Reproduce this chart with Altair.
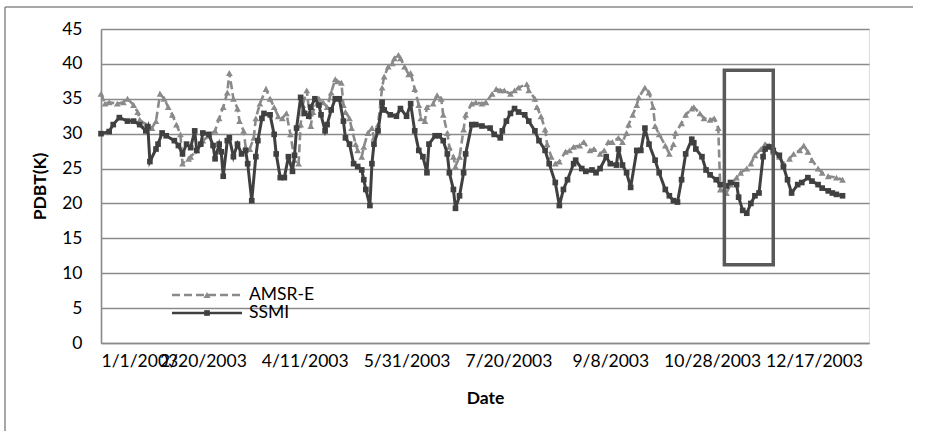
import altair as alt
import pandas as pd

# Daily PDBT readings (day offset from 1 Jan 2003, kelvin)
ssmi_days = [0, 4, 6, 9, 13, 16, 19, 22, 23, 24, 27, 28, 30, 32, 36, 38, 40, 42, 44, 46,
             47, 49, 50, 53, 55, 56, 58, 59, 60, 62, 63, 65, 67, 69, 71, 72, 74, 76, 77, 79,
             80, 83, 85, 86, 88, 90, 92, 94, 95, 96, 98, 100, 102, 103, 105, 107, 108, 110, 111, 113,
             115, 117, 119, 120, 122, 124, 126, 128, 129, 130, 132, 133, 134, 136, 138, 139, 142, 145, 147, 150,
             152, 154, 156, 158, 160, 161, 164, 166, 168, 170, 171, 173, 174, 176, 178, 179, 182, 184, 187, 191,
             193, 196, 197, 199, 201, 203, 205, 208, 210, 213, 215, 218, 220, 223, 225, 227, 229, 232, 233, 236,
             238, 241, 243, 245, 248, 250, 253, 254, 256, 258, 260, 263, 265, 267, 269, 272, 274, 277, 279, 281,
             283, 285, 287, 290, 291, 292, 295, 297, 299, 302, 304, 307, 309, 312, 313, 315, 317, 319, 321, 323,
             325, 326, 328, 330, 333, 335, 337, 339, 342, 344, 347, 349, 352, 354, 357, 359, 361, 364]
ssmi_vals = [30.0, 30.3, 31.3, 32.3, 31.8, 31.8, 31.3, 30.4, 31.0, 26.0, 27.8, 28.5, 30.1, 29.7, 29.0, 28.3, 27.1, 28.5, 28.0, 30.4,
             27.6, 28.5, 30.1, 29.9, 28.3, 26.4, 28.5, 27.4, 23.9, 29.0, 29.4, 26.7, 28.5, 27.1, 27.6, 25.7, 20.4, 26.7, 29.0, 32.2,
             32.9, 32.7, 29.9, 27.1, 23.7, 23.7, 26.7, 24.6, 26.9, 30.8, 35.2, 32.9, 32.5, 33.8, 35.0, 34.1, 32.7, 30.4, 31.3, 33.4,
             35.0, 35.0, 31.8, 29.4, 28.5, 25.7, 25.3, 24.8, 23.4, 22.0, 19.7, 25.7, 28.5, 30.4, 34.5, 33.4, 32.7, 32.5, 33.6, 32.5,
             34.3, 30.4, 27.6, 26.7, 24.4, 28.5, 29.7, 29.7, 29.0, 27.1, 24.4, 22.0, 19.3, 21.1, 24.4, 27.1, 31.3, 31.3, 31.1, 30.8,
             29.9, 29.4, 30.4, 31.8, 32.9, 33.6, 33.1, 32.7, 31.8, 30.4, 29.0, 27.6, 25.7, 23.0, 19.7, 22.0, 23.4, 25.7, 26.2, 25.0,
             24.6, 24.8, 24.4, 25.0, 26.7, 25.7, 25.5, 27.8, 25.5, 24.4, 22.3, 27.6, 27.6, 30.8, 28.5, 26.2, 24.4, 22.0, 21.1, 20.4,
             20.2, 23.4, 27.1, 29.2, 28.7, 27.8, 26.7, 24.8, 24.1, 23.4, 22.7, 22.5, 23.0, 22.7, 20.9, 19.0, 18.6, 20.0, 21.1, 21.5,
             26.7, 27.8, 28.1, 27.6, 26.9, 25.3, 23.4, 21.5, 22.7, 23.0, 23.7, 23.2, 22.7, 22.2, 21.8, 21.5, 21.3, 21.1]

amsr_days = [0, 2, 4, 8, 11, 13, 16, 18, 19, 22, 25, 27, 29, 31, 33, 35, 37, 39, 40, 43,
             44, 47, 50, 53, 56, 58, 60, 62, 63, 65, 67, 68, 70, 71, 73, 75, 76, 78, 81, 83,
             85, 87, 89, 91, 93, 95, 97, 98, 99, 101, 103, 104, 106, 107, 109, 111, 113, 115, 116, 118,
             119, 120, 122, 123, 125, 126, 128, 129, 131, 133, 134, 136, 138, 139, 141, 143, 144, 146, 147, 149,
             151, 152, 154, 156, 157, 159, 160, 163, 165, 167, 168, 170, 171, 173, 174, 176, 178, 179, 182, 184,
             187, 189, 192, 194, 196, 198, 201, 203, 205, 209, 210, 213, 214, 216, 218, 219, 221, 223, 225, 228,
             230, 232, 235, 237, 240, 242, 245, 247, 249, 251, 254, 256, 258, 259, 261, 263, 264, 267, 269, 271,
             272, 274, 277, 279, 281, 282, 285, 287, 290, 291, 294, 296, 299, 301, 303, 304, 307, 309, 312, 314,
             317, 319, 321, 324, 326, 328, 330, 333, 335, 338, 340, 343, 345, 347, 349, 352, 354, 357, 361, 364]
amsr_vals = [35.7, 34.3, 34.5, 34.3, 34.5, 35.0, 34.1, 33.1, 32.0, 31.3, 30.8, 31.8, 35.7, 35.0, 33.8, 32.7, 31.3, 29.9, 25.7, 26.4,
             26.7, 27.6, 29.0, 29.7, 30.4, 32.2, 33.8, 35.9, 38.7, 35.0, 33.6, 31.8, 30.4, 28.1, 27.8, 29.4, 32.2, 34.3, 36.4, 35.0,
             33.8, 32.5, 32.2, 32.9, 29.9, 26.2, 25.7, 31.3, 34.1, 36.2, 31.1, 33.1, 34.3, 35.0, 34.5, 33.8, 35.9, 37.8, 37.5, 37.3,
             34.1, 33.1, 32.2, 30.8, 28.5, 27.6, 26.7, 28.1, 30.1, 30.8, 29.4, 31.3, 36.6, 38.2, 39.6, 40.1, 40.8, 41.3, 40.8, 39.6,
             38.5, 38.7, 36.4, 34.1, 32.2, 31.8, 33.8, 34.3, 35.5, 35.0, 32.7, 30.1, 28.1, 26.7, 25.3, 26.7, 30.6, 32.7, 34.3, 34.5,
             34.3, 34.5, 35.7, 36.4, 36.2, 36.2, 35.7, 36.2, 36.6, 37.1, 36.2, 35.0, 33.8, 32.5, 30.6, 28.5, 26.7, 25.7, 26.0, 27.4,
             27.6, 28.1, 28.3, 28.8, 27.6, 27.8, 27.1, 27.6, 28.8, 28.8, 29.4, 28.8, 30.1, 31.3, 32.7, 34.1, 35.2, 36.6, 35.9, 33.8,
             31.1, 29.9, 28.3, 27.1, 28.5, 30.1, 31.5, 32.7, 33.6, 33.8, 32.9, 32.2, 32.0, 32.2, 30.8, 22.0, 21.5, 22.7, 23.7, 24.4,
             25.0, 25.7, 26.9, 27.8, 28.5, 28.3, 27.4, 26.7, 25.7, 26.4, 27.1, 27.6, 28.3, 27.4, 26.2, 25.0, 24.4, 23.9, 23.7, 23.4]

# Highlighted period (day offsets) and its PDBT range
box_days = [306, 330]
box_range = [11.2, 39.1]

x_tick_days = [0, 50, 100, 150, 200, 250, 300, 350]
y_ticks = [0, 5, 10, 15, 20, 25, 30, 35, 40, 45]
axis_end_day = 377

FONT = "Lato"
FS = 17.5
GRID = "#8a8a8a"
AMSR_COLOR = "#8a8a8a"
SSMI_COLOR = "#404040"

start = pd.Timestamp("2003-01-01")


def day_to_iso(d):
    return (start + pd.Timedelta(days=int(d))).strftime("%Y-%m-%d")


def day_to_dt(d):
    t = start + pd.Timedelta(days=int(d))
    return alt.DateTime(year=t.year, month=t.month, date=t.day, utc=True)


amsr_df = pd.DataFrame({"date": [day_to_iso(d) for d in amsr_days], "pdbt": amsr_vals})
ssmi_df = pd.DataFrame({"date": [day_to_iso(d) for d in ssmi_days], "pdbt": ssmi_vals})
box_df = pd.DataFrame({"date": [day_to_iso(box_days[0])], "end": [day_to_iso(box_days[1])],
                       "pdbt": [box_range[1]], "low": [box_range[0]]})

x_scale = alt.Scale(type="utc", domain=[day_to_dt(0), day_to_dt(axis_end_day)])
y_scale = alt.Scale(domain=[0, 45], nice=False, zero=True)

x_axis = alt.Axis(
    values=[day_to_dt(d) for d in x_tick_days], format="%-m/%-d/%Y", grid=False, ticks=False,
    labelOverlap=False, labelPadding=9, labelFontSize=FS, labelFont=FONT, labelColor="#000000",
    title="Date", titleFont=FONT, titleFontSize=FS, titleFontWeight="bold", titleColor="#000000",
    titleX=384, titleY=55, titleBaseline="middle", titleAlign="center",
    domainColor=GRID, domainWidth=1.6,
)
y_axis = alt.Axis(
    values=y_ticks, grid=True, gridColor=GRID, gridWidth=1.6, ticks=False, labelOverlap=False,
    labelPadding=19, labelFontSize=FS, labelFont=FONT, labelColor="#000000",
    title="PDBT(K)", titleFont=FONT, titleFontSize=FS, titleFontWeight="bold", titleColor="#000000",
    titleX=-61, titleY=157, titleAngle=-90, titleBaseline="middle", titleAlign="center",
    domainColor=GRID, domainWidth=1.6,
)

x_enc = alt.X("date:T", scale=x_scale, axis=x_axis)
y_enc = alt.Y("pdbt:Q", scale=y_scale, axis=y_axis)

amsr_line = alt.Chart(amsr_df).mark_line(
    color=AMSR_COLOR, strokeWidth=2.6, strokeDash=[8, 4]
).encode(x=x_enc, y=y_enc)
amsr_pts = alt.Chart(amsr_df).mark_point(
    shape="triangle-up", filled=True, color=AMSR_COLOR, size=46, opacity=1
).encode(x=x_enc, y=y_enc)

ssmi_line = alt.Chart(ssmi_df).mark_line(
    color=SSMI_COLOR, strokeWidth=3
).encode(x=x_enc, y=y_enc)
ssmi_pts = alt.Chart(ssmi_df).mark_point(
    shape="square", filled=True, color=SSMI_COLOR, size=32, opacity=1
).encode(x=x_enc, y=y_enc)

box = alt.Chart(box_df).mark_rect(
    fillOpacity=0, stroke="#595959", strokeWidth=3.5
).encode(x=x_enc, x2="end:T", y=y_enc, y2="low:Q")


def legend_entry(label, y_px, color, dash, shape, size):
    base = alt.Chart(pd.DataFrame({"label": [label]}))
    rule_kw = {"color": color, "strokeWidth": 2.6}
    if dash:
        rule_kw["strokeDash"] = dash
    line = base.mark_rule(**rule_kw).encode(
        x=alt.value(71), x2=alt.value(141), y=alt.value(y_px))
    pt = base.mark_point(shape=shape, filled=True, color=color, size=size, opacity=1).encode(
        x=alt.value(106), y=alt.value(y_px))
    txt = base.mark_text(align="left", baseline="middle", font=FONT, fontSize=FS, color="#000000").encode(
        x=alt.value(148), y=alt.value(y_px), text="label:N")
    return [line, pt, txt]


legend_layers = (legend_entry("AMSR-E", 266, AMSR_COLOR, [8, 4], "triangle-up", 50)
                 + legend_entry("SSMI", 284, SSMI_COLOR, None, "square", 32))

# outer chart border (top and left edges)
frame_src = alt.Chart(pd.DataFrame({"k": [0]}))
frame_top = frame_src.mark_rule(color="#8a8a8a", strokeWidth=1.5).encode(
    x=alt.value(-96), x2=alt.value(812), y=alt.value(-22))
frame_left = frame_src.mark_rule(color="#8a8a8a", strokeWidth=1.5).encode(
    x=alt.value(-96), y=alt.value(-22), y2=alt.value(410))

chart = alt.layer(
    amsr_line, amsr_pts, ssmi_line, ssmi_pts, box, *legend_layers, frame_top, frame_left
).properties(
    width=768, height=314,
    autosize=alt.AutoSizeParams(type="none"),
    padding={"left": 101, "top": 29, "right": 56, "bottom": 88},
).configure_view(stroke=None).configure(background="#ffffff")

chart.save("out.html", embed_options={"renderer": "svg", "actions": False})
